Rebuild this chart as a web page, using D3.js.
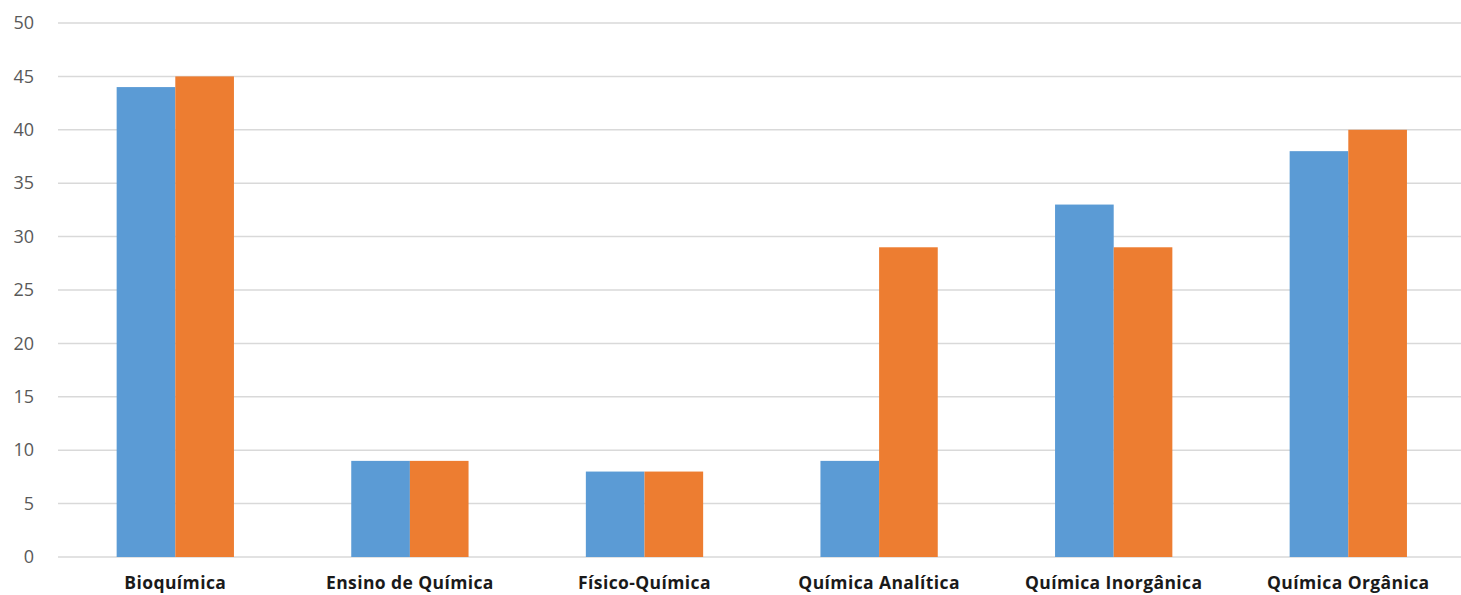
<!DOCTYPE html>
<html>
<head>
<meta charset="utf-8">
<script src="https://cdn.jsdelivr.net/npm/d3@7/dist/d3.min.js"></script>
<style>
  html, body { margin: 0; padding: 0; background: #fff; }
  svg { display: block; }
</style>
</head>
<body>
<svg id="chart" width="1461" height="595"></svg>
<script>
// Course areas and the two series of counts per area
const categories = ["Bioquímica", "Ensino de Química", "Físico-Química", "Química Analítica", "Química Inorgânica", "Química Orgânica"];
const seriesA = [44, 9, 8, 9, 33, 38];
const seriesB = [45, 9, 8, 29, 29, 40];
const yTicks = [0, 5, 10, 15, 20, 25, 30, 35, 40, 45, 50];

const colors = ["#5B9BD5", "#ED7D31"];

const svg = d3.select("#chart");
const plot = { left: 58, right: 1465.6, top: 23, bottom: 557 };

const x = d3.scaleBand().domain(categories).range([plot.left, plot.right])
  .paddingInner(0.5).paddingOuter(0.25);
const xSub = d3.scaleBand().domain([0, 1]).range([0, x.bandwidth()]);
const y = d3.scaleLinear().domain([0, 50]).range([plot.bottom, plot.top]);

// Horizontal gridlines
svg.append("g")
  .selectAll("line")
  .data(yTicks)
  .join("line")
  .attr("x1", plot.left).attr("x2", 1461)
  .attr("y1", d => y(d)).attr("y2", d => y(d))
  .attr("stroke", "#D9D9D9").attr("stroke-width", 1.5);

// Y axis labels
const yAxis = d3.axisLeft(y).tickValues(yTicks).tickSize(0).tickPadding(0);
const gy = svg.append("g").attr("transform", "translate(34,0)").call(yAxis);
gy.select(".domain").remove();
gy.selectAll("text")
  .attr("font-family", "'Open Sans', sans-serif")
  .attr("font-size", 18)
  .attr("fill", "#595959");

// Bars
const groups = svg.append("g")
  .selectAll("g")
  .data(categories.map((c, i) => ({ c, vals: [seriesA[i], seriesB[i]] })))
  .join("g")
  .attr("transform", d => `translate(${x(d.c)},0)`);

groups.selectAll("rect")
  .data(d => d.vals.map((v, k) => ({ v, k })))
  .join("rect")
  .attr("x", d => xSub(d.k))
  .attr("width", xSub.bandwidth())
  .attr("y", d => y(d.v))
  .attr("height", d => y(0) - y(d.v))
  .attr("fill", d => colors[d.k]);

// Category labels
const xAxis = d3.axisBottom(x).tickSize(0).tickPadding(0);
const gx = svg.append("g").attr("transform", `translate(0,${plot.bottom})`).call(xAxis);
gx.select(".domain").remove();
gx.selectAll("text")
  .attr("y", 32)
  .attr("dy", null)
  .attr("font-family", "'Open Sans', sans-serif")
  .attr("font-weight", 700)
  .attr("font-size", 17.5)
  .attr("letter-spacing", 0.4)
  .attr("fill", "#1a1a1a");
</script>
</body>
</html>
